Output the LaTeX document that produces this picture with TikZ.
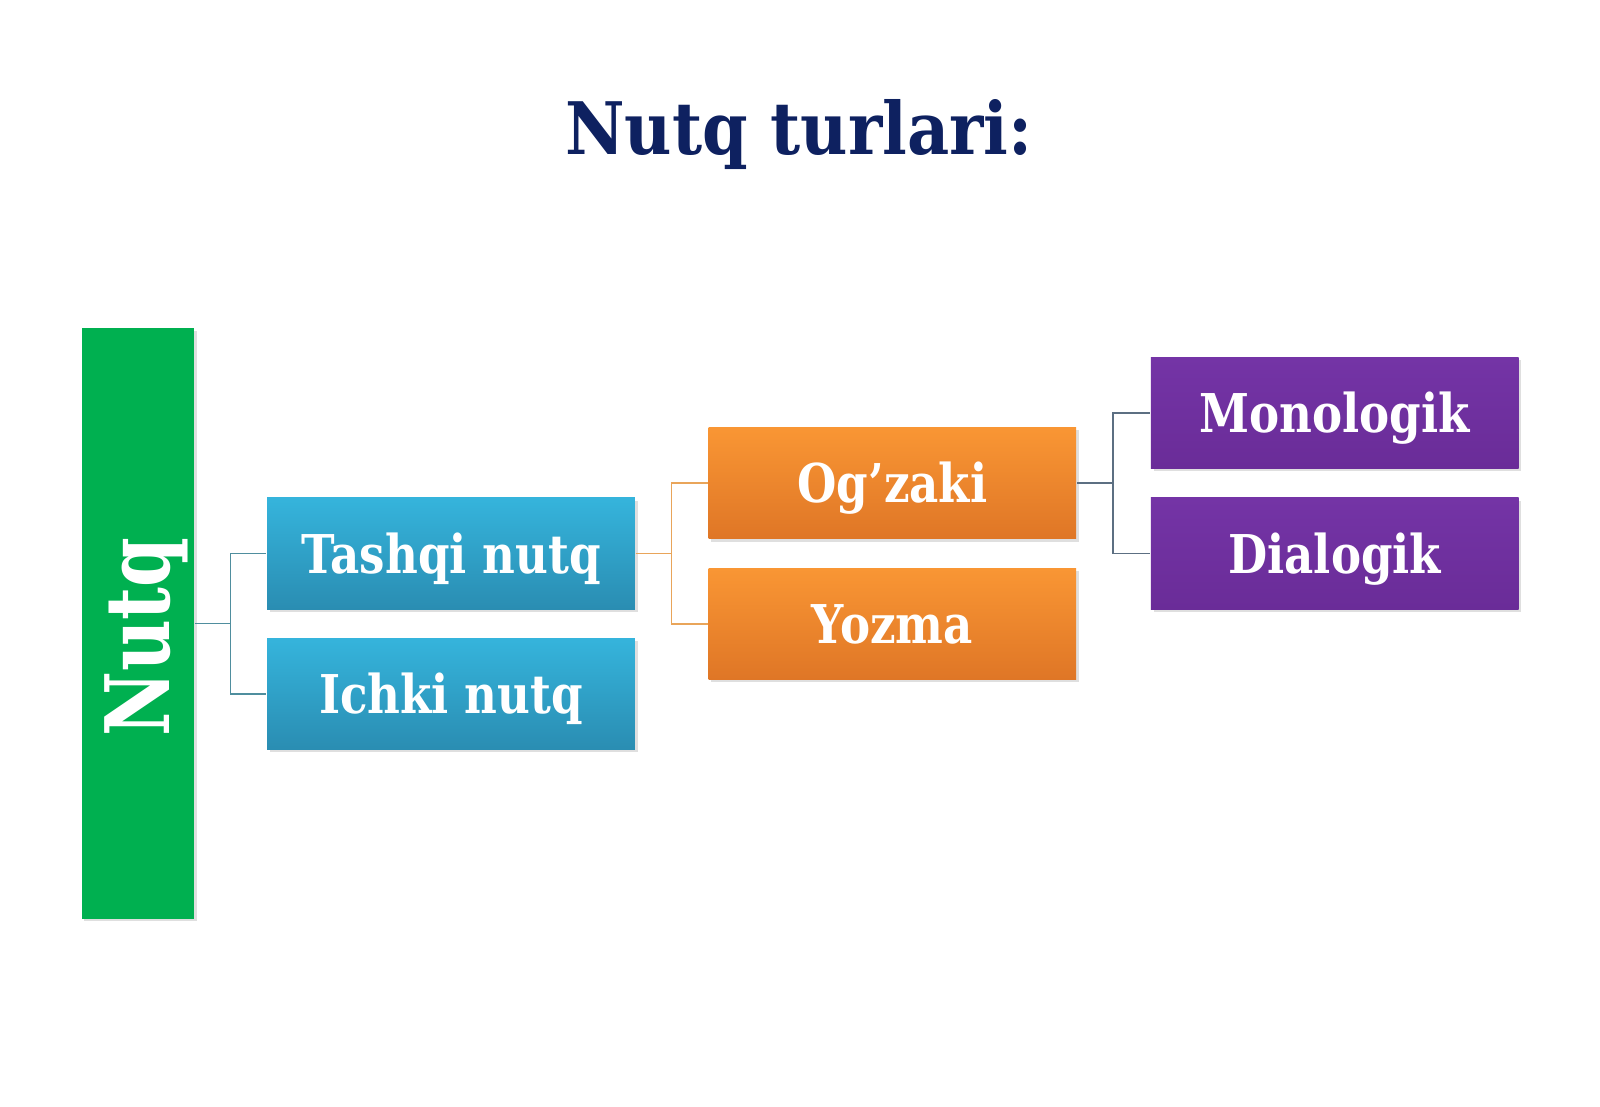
\documentclass[tikz,border=0pt]{standalone}
\usepackage{fontspec}
\setmainfont{DejaVu Serif}
\usetikzlibrary{positioning, shadows}

\definecolor{titleblue}{HTML}{0E2160}
\definecolor{nutqgreen}{HTML}{00B050}
\definecolor{blueTop}{HTML}{35B4DC}
\definecolor{blueBot}{HTML}{2A8DB2}
\definecolor{orangeTop}{HTML}{F99634}
\definecolor{orangeBot}{HTML}{DF7626}
\definecolor{purpleTop}{HTML}{7434A6}
\definecolor{purpleBot}{HTML}{6A2C98}
\definecolor{linkA}{HTML}{4F8E9E}
\definecolor{linkB}{HTML}{E9A55A}
\definecolor{linkC}{HTML}{5C6F82}

\newcommand\squeeze[2][0.845]{\scalebox{#1}[1]{#2}}

\begin{document}
\begin{tikzpicture}[x=0.01cm, y=0.01cm]
    % Styles
    \tikzstyle{box} = [rectangle, minimum width=3.674cm, minimum height=1.112cm,
        inner sep=0pt, text=white, font=\bfseries\fontsize{15.2}{18}\selectfont,
        text height=11.1pt, text depth=0pt,
        drop shadow={shadow xshift=0.8pt, shadow yshift=-0.8pt, opacity=0.25}]
    \tikzstyle{blue box} = [box, top color=blueTop, bottom color=blueBot]
    \tikzstyle{orange box} = [box, top color=orangeTop, bottom color=orangeBot]
    \tikzstyle{purple box} = [box, top color=purpleTop, bottom color=purpleBot]
    \tikzstyle{link} = [line width=0.5pt]

    \useasboundingbox (0,0) rectangle (1600,1107);

    % Title
    \node[anchor=base, text=titleblue, font=\bfseries\fontsize{20.6}{24}\selectfont]
        (title) at (799,952) {\squeeze[0.90]{Nutq turlari:}};

    % Nodes
    \node[rectangle, fill=nutqgreen, minimum width=1.122cm, minimum height=5.898cm,
        drop shadow={shadow xshift=0.8pt, shadow yshift=-0.8pt, opacity=0.25}]
        (nutq) at (137.8,483.5) {};
    \node[rotate=90, text=white, font=\bfseries\fontsize{25.3}{30}\selectfont]
        (nutqlabel) at ([xshift=0.09cm, yshift=-0.137cm]nutq.center) {\squeeze[0.80]{Nutq}};

    \node[blue box] (tashqi) at (451,553.4) {\squeeze{Tashqi nutq}};
    \node[blue box] (ichki) at (451,413) {\squeeze{Ichki nutq}};
    \node[orange box] (ogzaki) at (892.4,623.8) {\squeeze{Og’zaki}};
    \node[orange box] (yozma) at (892.4,483) {\squeeze{Yozma}};
    \node[purple box] (mono) at (1334.7,694.2) {\squeeze{Monologik}};
    \node[purple box] (dialog) at (1334.7,553.4) {\squeeze{Dialogik}};

    % Edges
    \coordinate (j1) at (230.6,483.5);
    \coordinate (j2) at (671.4,553.4);
    \coordinate (j3) at (1113.3,623.8);
    \draw[link, linkA] (nutq.east) -- (j1) |- (tashqi.west);
    \draw[link, linkA] (j1) |- (ichki.west);
    \draw[link, linkB] (tashqi.east) -- (j2) |- (ogzaki.west);
    \draw[link, linkB] (j2) |- (yozma.west);
    \draw[link, linkC] (ogzaki.east) -- (j3) |- (mono.west);
    \draw[link, linkC] (j3) |- (dialog.west);
\end{tikzpicture}
\end{document}
